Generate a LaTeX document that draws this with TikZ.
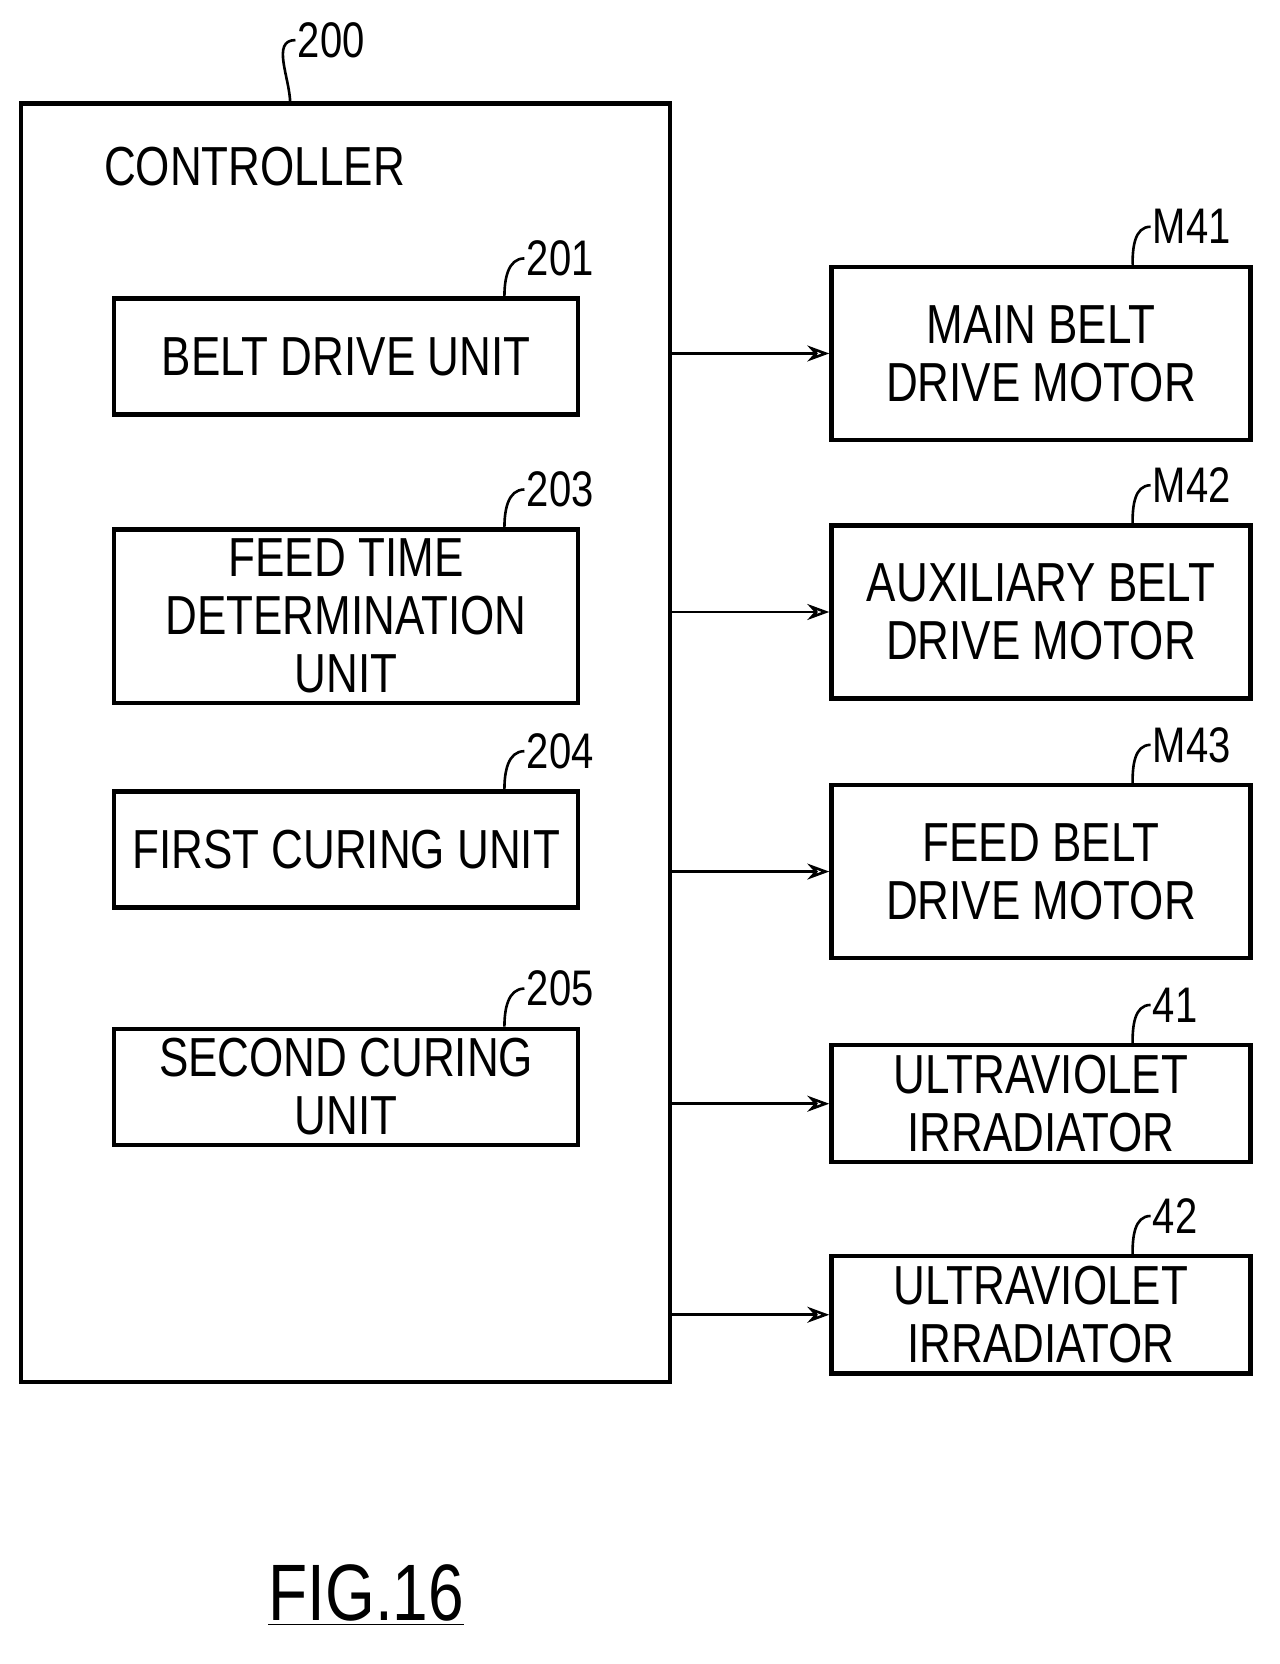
\documentclass[tikz,border=0pt]{standalone}
\usepackage{fontspec}
\setmainfont[FakeStretch=0.8]{Liberation Sans}
\usetikzlibrary{positioning,arrows.meta}
\tikzset{
  blk/.style={draw,line width=2.2pt,inner sep=0pt,align=center},
  ref/.style={font=\fontsize{25}{25}\selectfont,inner sep=1pt,anchor=west},
  lead/.style={line width=1.3pt},
  sig/.style={line width=1.3pt,-{Stealth[length=11pt,width=8pt,open]}},
}
\begin{document}
\begin{tikzpicture}[x=0.5275pt,y=-0.5275pt,font=\fontsize{27.5}{29}\selectfont]
\useasboundingbox (0,0) rectangle (1213,1577);
%% controller
\node[blk,minimum width=615*0.5275pt,minimum height=1212*0.5275pt] (ctl) at (327.5,704) {};
\node[anchor=west] (ctltxt) at (92,158) {CONTROLLER};
\node[ref] (n200) at (280,38) {200};
\draw[lead] (275,98) to[out=90,in=180] (n200.west);
%% units
\foreach \nm/\yc/\h/\txt/\num in {u201/338/110/BELT DRIVE UNIT/201,
    u203/584/164/FEED TIME\\DETERMINATION\\UNIT/203,
    u204/805/110/FIRST CURING UNIT/204,
    u205/1030/110/SECOND CURING\\UNIT/205}{
  \node[blk,minimum width=440*0.5275pt,minimum height=\h*0.5275pt] (\nm) at (328,\yc) {\txt};
  \coordinate (t\nm) at ([xshift=-38pt]\nm.north east);
  \node[ref] (l\nm) at ([xshift=10pt,yshift=19pt]t\nm) {\num};
  \draw[lead] (t\nm) to[out=90,in=180] (l\nm.west);
}
%% outputs
\foreach \nm/\yc/\h/\txt/\num in {m41/335/164/MAIN BELT\\DRIVE MOTOR/M41,
    m42/580/164/AUXILIARY BELT\\DRIVE MOTOR/M42,
    m43/826/164/FEED BELT\\DRIVE MOTOR/M43,
    o41/1046/111/ULTRAVIOLET\\IRRADIATOR/41,
    o42/1246/111/ULTRAVIOLET\\IRRADIATOR/42}{
  \node[blk,minimum width=397*0.5275pt,minimum height=\h*0.5275pt] (\nm) at (986.5,\yc) {\txt};
  \coordinate (t\nm) at ([xshift=-60pt]\nm.north east);
  \node[ref] (l\nm) at ([xshift=9pt,yshift=19pt]t\nm) {\num};
  \draw[lead] (t\nm) to[out=90,in=180] (l\nm.west);
  \draw[sig] (ctl.east |- \nm.west) -- (\nm.west);
}
%% caption
\node[font=\fontsize{40}{40}\selectfont] (cap) at (347,1512) {\underline{FIG.16}};
\end{tikzpicture}
\end{document}
